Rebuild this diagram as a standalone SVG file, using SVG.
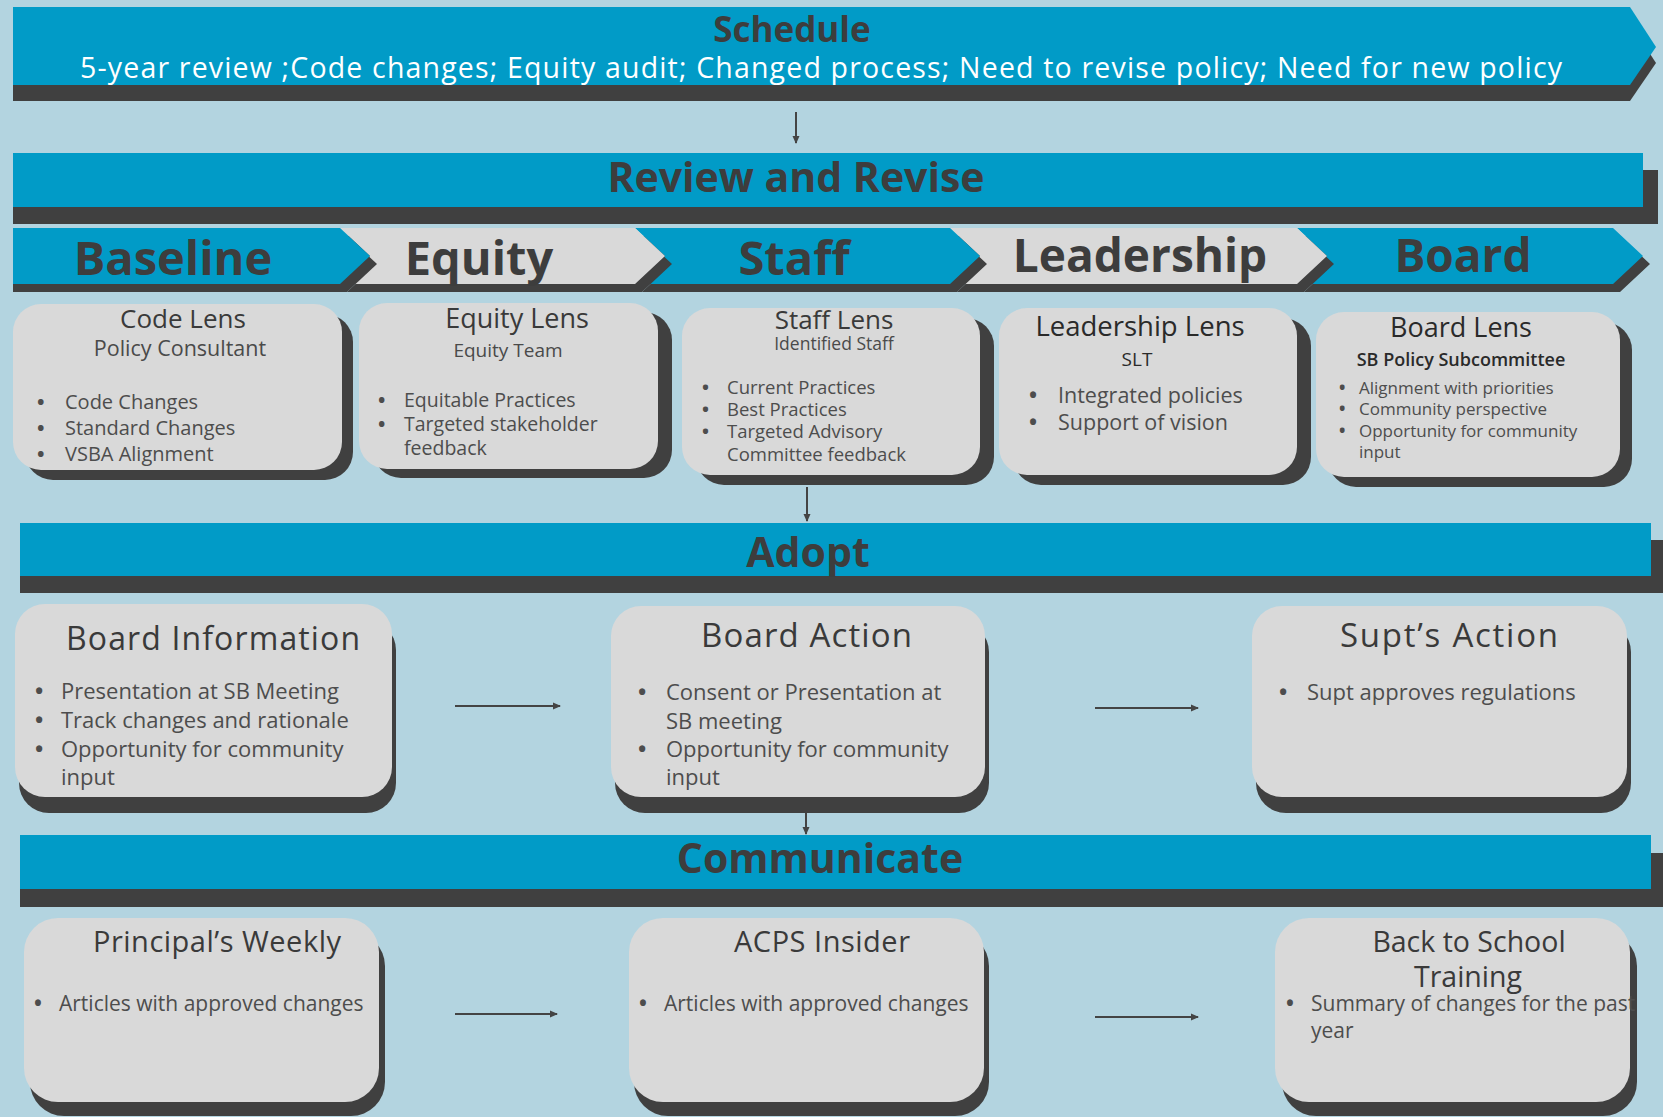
<svg xmlns="http://www.w3.org/2000/svg" width="1663" height="1117" viewBox="0 0 1663 1117">
<defs>
<style>
text{font-family:"Open Sans","Noto Sans",sans-serif}
.hd{font-weight:700;fill:#3d3d3d}
.blue{fill:#019bc7}
.dark{fill:#404040}
.gray{fill:#d9d9d9}
.ttl{fill:#3a3a3a}
.sub{fill:#4a4a4a}
.txt{fill:#4d4d4d}
.b{font-weight:700}
.mid{text-anchor:middle}
.conn{stroke:#444;stroke-width:2;fill:none;marker-end:url(#ah)}
</style>
<marker id="ah" markerWidth="8" markerHeight="8" refX="7" refY="4" orient="auto" markerUnits="userSpaceOnUse">
<path d="M0,0.5 L8,4 L0,7.5 Z" fill="#444"/>
</marker>
</defs>
<rect x="0" y="0" width="1663" height="1117" fill="#b3d4e0"/>

<g id="schedule">
<polygon class="dark" points="13,23 1630,23 1656,63 1630,101 13,101"/>
<polygon class="blue" points="13,7 1630,7 1656,47 1630,85 13,85"/>
<text class="hd mid" x="792" y="42" font-size="35">Schedule</text>
<text class="mid" x="821" y="78" font-size="28.5" fill="#ffffff" textLength="1482">5-year review ;Code changes; Equity audit; Changed process; Need to revise policy; Need for new policy</text>
</g>

<g id="review">
<rect class="dark" x="13" y="170" width="1645" height="54"/>
<rect class="blue" x="13" y="153" width="1630" height="54"/>
<text class="hd mid" x="796" y="192" font-size="41">Review and Revise</text>
</g>

<g id="stages">
<polygon class="dark" points="1304,236 1620,236 1650,264 1620,292 1304,292 1334,264"/>
<polygon class="blue" points="1297,228 1613,228 1643,256 1613,284 1297,284 1327,256"/>
<polygon class="dark" points="957,236 1304,236 1334,264 1304,292 957,292 987,264"/>
<polygon class="gray" points="950,228 1297,228 1327,256 1297,284 950,284 980,256"/>
<polygon class="dark" points="642,236 957,236 987,264 957,292 642,292 672,264"/>
<polygon class="blue" points="635,228 950,228 980,256 950,284 635,284 665,256"/>
<polygon class="dark" points="347,236 642,236 672,264 642,292 347,292 377,264"/>
<polygon class="gray" points="340,228 635,228 665,256 635,284 340,284 370,256"/>
<polygon class="dark" points="13,236 347,236 377,264 347,292 13,292"/>
<polygon class="blue" points="13,228 340,228 370,256 340,284 13,284"/>
<text class="hd mid" x="173" y="275" font-size="47">Baseline</text>
<text class="hd mid" x="479" y="275" font-size="47">Equity</text>
<text class="hd mid" x="794" y="275" font-size="47">Staff</text>
<text class="hd mid" x="1140" y="272" font-size="46">Leadership</text>
<text class="hd mid" x="1463" y="272" font-size="46">Board</text>
</g>

<g id="code-lens">
<rect class="dark" x="25" y="314" width="328" height="166" rx="28"/>
<rect class="gray" x="13" y="304" width="329" height="166" rx="28"/>
<text class="ttl mid" x="183" y="328" font-size="26">Code Lens</text>
<text class="sub mid" x="180" y="356" font-size="21.5">Policy Consultant</text>
<text class="txt" y="409" font-size="20"><tspan class="b" x="37">•</tspan><tspan x="65">Code Changes</tspan></text>
<text class="txt" y="435" font-size="20"><tspan class="b" x="37">•</tspan><tspan x="65">Standard Changes</tspan></text>
<text class="txt" y="461" font-size="20"><tspan class="b" x="37">•</tspan><tspan x="65">VSBA Alignment</tspan></text>
</g>

<g id="equity-lens">
<rect class="dark" x="373" y="312" width="299" height="166" rx="28"/>
<rect class="gray" x="359" y="303" width="299" height="166" rx="28"/>
<text class="ttl mid" x="517" y="328" font-size="27">Equity Lens</text>
<text class="sub mid" x="508" y="357" font-size="19">Equity Team</text>
<text class="txt" y="407" font-size="19.5"><tspan class="b" x="378">•</tspan><tspan x="404">Equitable Practices</tspan></text>
<text class="txt" y="431" font-size="19.5"><tspan class="b" x="378">•</tspan><tspan x="404">Targeted stakeholder</tspan></text>
<text class="txt" x="404" y="455" font-size="19.5">feedback</text>
</g>

<g id="staff-lens">
<rect class="dark" x="696" y="318" width="298" height="167" rx="28"/>
<rect class="gray" x="682" y="308" width="298" height="167" rx="28"/>
<text class="ttl mid" x="834" y="329" font-size="26">Staff Lens</text>
<text class="sub mid" x="834" y="350" font-size="17.5">Identified Staff</text>
<text class="txt" y="394" font-size="18.5"><tspan class="b" x="702">•</tspan><tspan x="727">Current Practices</tspan></text>
<text class="txt" y="416" font-size="18.5"><tspan class="b" x="702">•</tspan><tspan x="727">Best Practices</tspan></text>
<text class="txt" y="438" font-size="18.5"><tspan class="b" x="702">•</tspan><tspan x="727">Targeted Advisory</tspan></text>
<text class="txt" x="727" y="461" font-size="18.5">Committee feedback</text>
</g>

<g id="leadership-lens">
<rect class="dark" x="1013" y="318" width="298" height="167" rx="28"/>
<rect class="gray" x="999" y="308" width="298" height="167" rx="28"/>
<text class="mid" x="1140" y="336" font-size="27.5" fill="#2a2a2a">Leadership Lens</text>
<text class="mid" x="1137" y="366" font-size="19" fill="#2a2a2a">SLT</text>
<text class="txt" y="403" font-size="21.5"><tspan class="b" x="1029">•</tspan><tspan x="1058">Integrated policies</tspan></text>
<text class="txt" y="430" font-size="21.5"><tspan class="b" x="1029">•</tspan><tspan x="1058">Support of vision</tspan></text>
</g>

<g id="board-lens">
<rect class="dark" x="1328" y="322" width="304" height="165" rx="28"/>
<rect class="gray" x="1316" y="312" width="304" height="165" rx="28"/>
<text class="mid" x="1461" y="337" font-size="27" fill="#2a2a2a">Board Lens</text>
<text class="mid" x="1461" y="366" font-size="18" font-weight="600" fill="#2a2a2a">SB Policy Subcommittee</text>
<text class="txt" y="394" font-size="17"><tspan class="b" x="1339">•</tspan><tspan x="1359">Alignment with priorities</tspan></text>
<text class="txt" y="415" font-size="17"><tspan class="b" x="1339">•</tspan><tspan x="1359">Community perspective</tspan></text>
<text class="txt" y="437" font-size="17"><tspan class="b" x="1339">•</tspan><tspan x="1359">Opportunity for community</tspan></text>
<text class="txt" x="1359" y="458" font-size="17">input</text>
</g>

<g id="adopt">
<rect class="dark" x="20" y="540" width="1643" height="53"/>
<rect class="blue" x="20" y="523" width="1631" height="53"/>
<text class="hd mid" x="808" y="567" font-size="41">Adopt</text>
</g>

<g id="board-information">
<rect class="dark" x="19" y="620" width="377" height="193" rx="30"/>
<rect class="gray" x="15" y="604" width="377" height="193" rx="30"/>
<text class="ttl" x="66" y="650" font-size="32" textLength="294">Board Information</text>
<text class="txt" y="699" font-size="22"><tspan class="b" x="35">•</tspan><tspan x="61">Presentation at SB Meeting</tspan></text>
<text class="txt" y="728" font-size="22"><tspan class="b" x="35">•</tspan><tspan x="61">Track changes and rationale</tspan></text>
<text class="txt" y="757" font-size="22"><tspan class="b" x="35">•</tspan><tspan x="61">Opportunity for community</tspan></text>
<text class="txt" x="61" y="785" font-size="22">input</text>
</g>

<g id="board-action">
<rect class="dark" x="615" y="622" width="374" height="191" rx="30"/>
<rect class="gray" x="611" y="606" width="374" height="191" rx="30"/>
<text class="ttl" x="701" y="647" font-size="33" textLength="211">Board Action</text>
<text class="txt" y="700" font-size="22"><tspan class="b" x="638">•</tspan><tspan x="666">Consent or Presentation at</tspan></text>
<text class="txt" x="666" y="729" font-size="22">SB meeting</text>
<text class="txt" y="757" font-size="22"><tspan class="b" x="638">•</tspan><tspan x="666">Opportunity for community</tspan></text>
<text class="txt" x="666" y="785" font-size="22">input</text>
</g>

<g id="supt-action">
<rect class="dark" x="1256" y="622" width="375" height="191" rx="30"/>
<rect class="gray" x="1252" y="606" width="375" height="191" rx="30"/>
<text class="ttl" x="1340" y="647" font-size="33" textLength="218">Supt’s Action</text>
<text class="txt" y="700" font-size="22"><tspan class="b" x="1279">•</tspan><tspan x="1307">Supt approves regulations</tspan></text>
</g>

<g id="communicate">
<rect class="dark" x="20" y="853" width="1643" height="54"/>
<rect class="blue" x="20" y="835" width="1631" height="54"/>
<text class="hd mid" x="820" y="873" font-size="41">Communicate</text>
</g>

<g id="principals-weekly">
<rect class="dark" x="30" y="932" width="355" height="184" rx="34"/>
<rect class="gray" x="24" y="918" width="355" height="184" rx="34"/>
<text class="ttl" x="93" y="952" font-size="29" textLength="248">Principal’s Weekly</text>
<text class="txt" y="1011" font-size="21"><tspan class="b" x="34">•</tspan><tspan x="59">Articles with approved changes</tspan></text>
</g>

<g id="acps-insider">
<rect class="dark" x="634" y="932" width="355" height="184" rx="34"/>
<rect class="gray" x="629" y="918" width="355" height="184" rx="34"/>
<text class="ttl" x="734" y="952" font-size="29" textLength="176">ACPS Insider</text>
<text class="txt" y="1011" font-size="21"><tspan class="b" x="639">•</tspan><tspan x="664">Articles with approved changes</tspan></text>
</g>

<g id="back-to-school">
<rect class="dark" x="1282" y="932" width="355" height="184" rx="34"/>
<rect class="gray" x="1275" y="918" width="355" height="184" rx="34"/>
<text class="ttl mid" x="1469" y="952" font-size="28.5">Back to School</text>
<text class="ttl mid" x="1468" y="987" font-size="28.5">Training</text>
<text class="txt" y="1011" font-size="21"><tspan class="b" x="1286">•</tspan><tspan x="1311">Summary of changes for the past</tspan></text>
<text class="txt" x="1311" y="1038" font-size="21">year</text>
</g>

<g id="connectors">
<line class="conn" x1="796" y1="112" x2="796" y2="143"/>
<line class="conn" x1="807" y1="487" x2="807" y2="521"/>
<line class="conn" x1="455" y1="706" x2="560" y2="706"/>
<line class="conn" x1="1095" y1="708" x2="1198" y2="708"/>
<line class="conn" x1="806" y1="813" x2="806" y2="834"/>
<line class="conn" x1="455" y1="1014" x2="557" y2="1014"/>
<line class="conn" x1="1095" y1="1017" x2="1198" y2="1017"/>
</g>
</svg>
